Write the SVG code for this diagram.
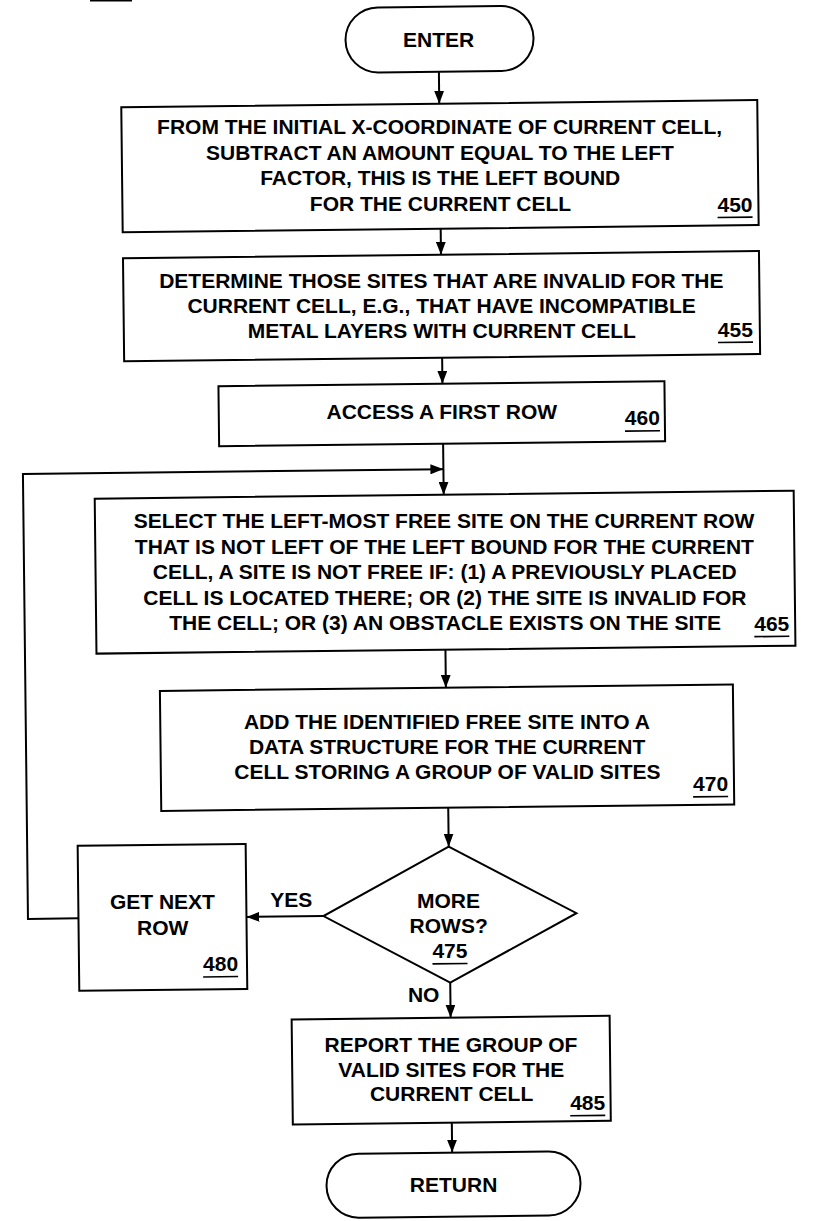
<svg xmlns="http://www.w3.org/2000/svg" width="833" height="1221" viewBox="0 0 833 1221">
<defs>
<style>
.s{fill:#fff;stroke:#000;stroke-width:2}
.c{fill:none;stroke:#000;stroke-width:2}
.u{stroke:#000;stroke-width:1.6}
text{font-family:"Liberation Sans",Arial,Helvetica,sans-serif;font-weight:bold;font-size:21px;fill:#000}
.m{text-anchor:middle}
.e{text-anchor:end}
</style>
<marker id="ah" markerUnits="userSpaceOnUse" markerWidth="13" markerHeight="10" refX="13" refY="5" orient="auto">
<path d="M0,0 L13,5 L0,10 z" fill="#000"/>
</marker>
</defs>
<rect width="833" height="1221" fill="#fff"/>
<line x1="90" y1="0.5" x2="132" y2="0.5" stroke="#000" stroke-width="2"/>
<g id="connectors">
<g transform="rotate(-0.65 416 610)">
<line class="c" x1="445" y1="72" x2="445" y2="104" marker-end="url(#ah)"/>
<line class="c" x1="445" y1="229" x2="445" y2="255" marker-end="url(#ah)"/>
<line class="c" x1="445" y1="358" x2="445" y2="384" marker-end="url(#ah)"/>
<line class="c" x1="445" y1="444" x2="445" y2="495" marker-end="url(#ah)"/>
<polyline class="c" points="75,914.5 24.5,914.5 24.5,469.5 445,469.5" marker-end="url(#ah)"/>
<line class="c" x1="445" y1="650" x2="445" y2="688" marker-end="url(#ah)"/>
<line class="c" x1="446" y1="808" x2="446" y2="847" marker-end="url(#ah)"/>
<line class="c" x1="320" y1="915" x2="243" y2="915" marker-end="url(#ah)"/>
<line class="c" x1="446" y1="983" x2="446" y2="1018" marker-end="url(#ah)"/>
<line class="c" x1="446" y1="1123" x2="446" y2="1153" marker-end="url(#ah)"/>
</g>
<text x="291.3" y="906.5" class="m">YES</text>
<text x="439.4" y="1001.8" class="e">NO</text>
</g>
<g id="enter">
<rect class="s" x="352" y="7" width="188" height="65" rx="32.5" transform="rotate(-0.65 416 610)"/>
<text x="438.6" y="46.7" class="m">ENTER</text>
</g>
<g id="n450">
<g transform="rotate(-0.65 416 610)">
<rect class="s" x="127" y="104" width="636" height="125"/>
<line class="u" x1="722" y1="221" x2="757" y2="221"/>
</g>
<text x="439.6" y="134.2" class="m">FROM THE INITIAL X-COORDINATE OF CURRENT CELL,</text>
<text x="439.9" y="159.7" class="m">SUBTRACT AN AMOUNT EQUAL TO THE LEFT</text>
<text x="440.2" y="185.2" class="m">FACTOR, THIS IS THE LEFT BOUND</text>
<text x="440.5" y="210.7" class="m">FOR THE CURRENT CELL</text>
<text x="752.5" y="211.6" class="e">450</text>
</g>
<g id="n455">
<g transform="rotate(-0.65 416 610)">
<rect class="s" x="127" y="255" width="636" height="103"/>
<line class="u" x1="721" y1="346" x2="756" y2="346"/>
</g>
<text x="441.3" y="287.7" class="m">DETERMINE THOSE SITES THAT ARE INVALID FOR THE</text>
<text x="441.6" y="312.7" class="m">CURRENT CELL, E.G., THAT HAVE INCOMPATIBLE</text>
<text x="441.9" y="337.7" class="m">METAL LAYERS WITH CURRENT CELL</text>
<text x="752.9" y="336.6" class="e">455</text>
</g>
<g id="n460">
<g transform="rotate(-0.65 416 610)">
<rect class="s" x="221" y="384" width="446" height="60"/>
<line class="u" x1="627" y1="433.5" x2="662" y2="433.5"/>
</g>
<text x="441.8" y="418.7" class="m">ACCESS A FIRST ROW</text>
<text x="659.9" y="424.7" class="e">460</text>
</g>
<g id="n465">
<g transform="rotate(-0.65 416 610)">
<rect class="s" x="96" y="495" width="699" height="155"/>
<line class="u" x1="754" y1="640.5" x2="789" y2="640.5"/>
</g>
<text x="444.1" y="528.2" class="m">SELECT THE LEFT-MOST FREE SITE ON THE CURRENT ROW</text>
<text x="444.4" y="553.7" class="m">THAT IS NOT LEFT OF THE LEFT BOUND FOR THE CURRENT</text>
<text x="444.7" y="579.2" class="m">CELL, A SITE IS NOT FREE IF: (1) A PREVIOUSLY PLACED</text>
<text x="444.9" y="604.7" class="m">CELL IS LOCATED THERE; OR (2) THE SITE IS INVALID FOR</text>
<text x="445.2" y="630.2" class="m">THE CELL; OR (3) AN OBSTACLE EXISTS ON THE SITE</text>
<text x="789.3" y="630.8" class="e">465</text>
</g>
<g id="n470">
<g transform="rotate(-0.65 416 610)">
<rect class="s" x="159" y="688" width="573" height="120"/>
<line class="u" x1="691" y1="800" x2="726" y2="800"/>
</g>
<text x="446.9" y="729.2" class="m">ADD THE IDENTIFIED FREE SITE INTO A</text>
<text x="447.1" y="754.2" class="m">DATA STRUCTURE FOR THE CURRENT</text>
<text x="447.4" y="779.2" class="m">CELL STORING A GROUP OF VALID SITES</text>
<text x="728.1" y="790.8" class="e">470</text>
</g>
<g id="n475">
<g transform="rotate(-0.65 416 610)">
<polygon class="s" points="446,847 573,915 446,983 320,915"/>
<line class="u" x1="428.5" y1="964" x2="463.5" y2="964"/>
</g>
<text x="448.4" y="908.2" class="m">MORE</text>
<text x="448.7" y="933.2" class="m">ROWS?</text>
<text x="449.9" y="958.2" class="m">475</text>
</g>
<g id="n480">
<g transform="rotate(-0.65 416 610)">
<rect class="s" x="75" y="842" width="168" height="145"/>
<line class="u" x1="199" y1="974.5" x2="234" y2="974.5"/>
</g>
<text x="162.4" y="908.9" class="m">GET NEXT</text>
<text x="162.7" y="934.9" class="m">ROW</text>
<text x="238.1" y="971.1" class="e">480</text>
</g>
<g id="n485">
<g transform="rotate(-0.65 416 610)">
<rect class="s" x="287" y="1018" width="318" height="105"/>
<line class="u" x1="564.5" y1="1117.5" x2="599.5" y2="1117.5"/>
</g>
<text x="451.0" y="1051.7" class="m">REPORT THE GROUP OF</text>
<text x="451.3" y="1076.7" class="m">VALID SITES FOR THE</text>
<text x="451.6" y="1100.7" class="m">CURRENT CELL</text>
<text x="605.2" y="1109.9" class="e">485</text>
</g>
<g id="return">
<rect class="s" x="320" y="1153" width="254" height="64" rx="32" transform="rotate(-0.65 416 610)"/>
<text x="453.6" y="1191.6" class="m">RETURN</text>
</g>
</svg>
